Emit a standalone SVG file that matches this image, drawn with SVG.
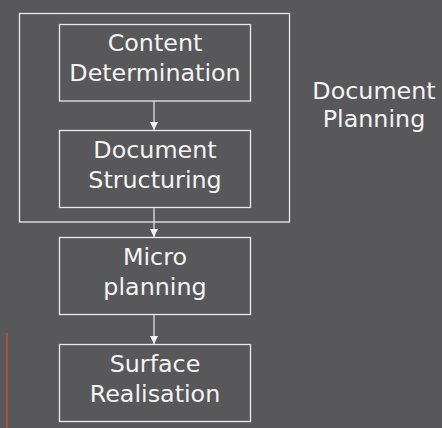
<svg xmlns="http://www.w3.org/2000/svg" width="442" height="428" viewBox="0 0 442 428">
  <defs>
    <style>
      .box { fill: none; stroke: #ececec; stroke-width: 1.3; }
      .label { font-family: "DejaVu Sans", sans-serif; font-size: 23.8px; fill: #f4f4f4; text-anchor: middle; }
      .link { stroke: #ececec; stroke-width: 1.2; fill: none; marker-end: url(#head); }
    </style>
    <marker id="head" viewBox="0 0 8 8" refX="8" refY="4" markerWidth="8" markerHeight="8" markerUnits="userSpaceOnUse" orient="auto">
      <path d="M0,0 L8,4 L0,8 Z" fill="#f2f2f2"/>
    </marker>
  </defs>

  <!-- background -->
  <rect x="0" y="0" width="442" height="428" fill="#58585a"/>
  <line x1="7" y1="333" x2="7" y2="428" stroke="#a0583a" stroke-width="2"/>

  <!-- document planning group -->
  <g id="document-planning">
    <rect class="box" x="19.5" y="13.5" width="270" height="208.5"/>
    <text class="label" x="374" y="99">Document</text>
    <text class="label" x="374" y="127">Planning</text>
  </g>

  <g id="content-determination">
    <rect class="box" x="59.5" y="24.5" width="191" height="76.5"/>
    <text class="label" x="155" y="51">Content</text>
    <text class="label" x="155" y="81">Determination</text>
  </g>

  <g id="document-structuring">
    <rect class="box" x="59.5" y="130.5" width="191" height="77"/>
    <text class="label" x="155" y="158">Document</text>
    <text class="label" x="155" y="188">Structuring</text>
  </g>

  <g id="micro-planning">
    <rect class="box" x="59.5" y="237.5" width="191" height="77"/>
    <text class="label" x="155" y="265">Micro</text>
    <text class="label" x="155" y="295">planning</text>
  </g>

  <g id="surface-realisation">
    <rect class="box" x="59.5" y="344.5" width="191" height="77"/>
    <text class="label" x="155" y="372">Surface</text>
    <text class="label" x="155" y="402">Realisation</text>
  </g>

  <!-- connectors -->
  <g id="connectors">
    <line class="link" x1="154" y1="101" x2="154" y2="130"/>
    <line class="link" x1="154" y1="208" x2="154" y2="237"/>
    <line class="link" x1="154" y1="315" x2="154" y2="344"/>
  </g>
</svg>
